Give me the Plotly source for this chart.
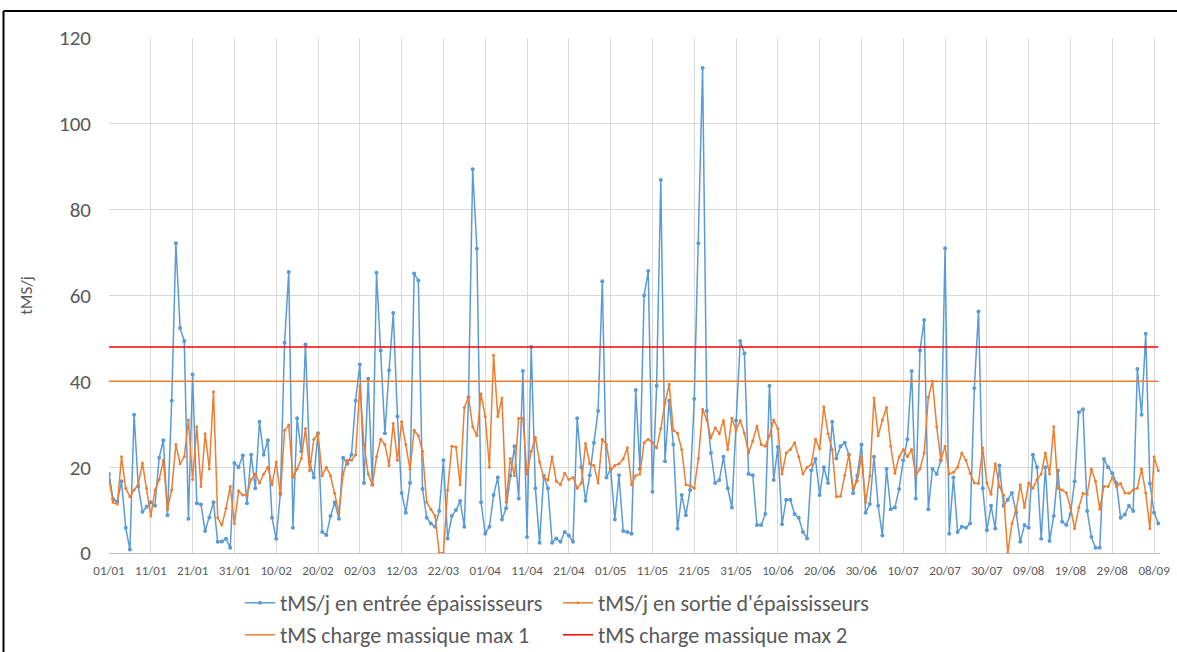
import pandas as pd
import plotly.graph_objects as go

START_DATE = "2019-01-01"

entree = [
    18.4, 12.5, 12.0, 16.7, 5.9, 0.8, 32.2, 15.5, 9.6, 10.8,
    11.8, 11.0, 22.2, 26.3, 8.8, 35.5, 72.2, 52.4, 49.4, 8.0,
    41.6, 11.6, 11.3, 5.1, 8.3, 11.8, 2.6, 2.7, 3.3, 1.2,
    21.0, 20.0, 22.7, 11.6, 22.9, 15.1, 30.6, 22.9, 26.3, 8.2,
    3.3, 13.9, 49.0, 65.5, 5.9, 31.4, 23.7, 48.6, 21.2, 17.6,
    27.9, 4.9, 4.2, 8.6, 11.8, 8.0, 22.2, 20.8, 22.9, 35.5,
    43.9, 16.3, 40.6, 15.9, 65.3, 47.2, 27.9, 42.6, 55.9, 31.8,
    14.0, 9.4, 16.3, 65.1, 63.5, 14.9, 8.2, 6.9, 6.1, 9.8,
    21.6, 3.4, 8.6, 10.0, 12.1, 6.1, 36.3, 89.4, 70.9, 11.8,
    4.5, 6.1, 13.5, 17.6, 7.8, 10.4, 18.0, 24.9, 12.7, 42.4,
    3.7, 48.0, 15.1, 2.4, 18.0, 15.1, 2.4, 3.4, 2.6, 4.9,
    4.1, 2.6, 31.4, 20.0, 12.2, 18.1, 25.7, 33.1, 63.3, 17.6,
    19.6, 7.8, 18.1, 5.1, 4.9, 4.5, 38.0, 19.6, 60.0, 65.7,
    14.3, 39.0, 86.9, 21.4, 35.5, 25.3, 5.7, 13.5, 8.8, 14.7,
    35.9, 72.2, 113.0, 33.1, 23.3, 16.3, 17.0, 22.4, 15.1, 10.6,
    30.9, 49.4, 46.5, 18.4, 18.1, 6.5, 6.5, 9.1, 39.0, 17.0,
    24.7, 6.7, 12.4, 12.4, 9.1, 8.2, 4.9, 3.4, 19.2, 21.9,
    13.5, 20.0, 16.3, 30.6, 22.0, 24.9, 25.7, 22.9, 13.9, 18.0,
    25.3, 9.4, 11.4, 22.4, 11.0, 4.1, 19.6, 10.2, 10.6, 14.9,
    21.6, 26.5, 42.4, 12.7, 47.2, 54.3, 10.2, 19.6, 18.4, 21.6,
    71.0, 4.5, 17.6, 4.9, 6.1, 5.9, 6.9, 38.4, 56.3, 15.1,
    5.3, 11.0, 5.7, 20.4, 11.0, 12.4, 14.0, 9.4, 2.6, 6.5,
    5.9, 22.9, 20.0, 3.3, 20.0, 2.8, 8.6, 19.2, 7.3, 6.5,
    9.1, 16.7, 32.8, 33.5, 9.8, 3.7, 1.2, 1.2, 21.9, 20.0,
    18.6, 16.3, 8.2, 9.0, 11.0, 9.8, 42.9, 32.2, 51.1, 16.2,
    9.4, 6.9,
]

sortie = [
    17.1, 11.8, 11.4, 22.4, 15.1, 13.1, 14.7, 15.9, 21.0, 15.1,
    8.6, 14.7, 17.1, 21.6, 10.2, 14.7, 25.3, 20.8, 22.4, 31.0,
    17.1, 29.4, 15.5, 27.8, 19.6, 37.6, 8.2, 6.5, 10.4, 15.5,
    6.9, 14.5, 13.5, 13.5, 17.1, 18.4, 16.3, 18.4, 20.0, 15.9,
    21.2, 13.5, 28.6, 29.8, 17.6, 19.6, 22.0, 29.0, 19.2, 26.5,
    27.8, 18.0, 20.0, 18.0, 13.9, 9.4, 18.4, 21.6, 21.6, 22.9,
    39.0, 25.3, 18.4, 15.9, 22.4, 26.5, 25.3, 20.4, 30.2, 21.6,
    30.6, 25.3, 19.6, 28.6, 27.3, 23.7, 11.8, 10.2, 8.6, 0.0,
    0.0, 14.7, 24.9, 24.7, 15.9, 33.9, 36.3, 29.4, 27.3, 37.1,
    31.8, 20.0, 46.1, 31.8, 36.1, 11.8, 22.0, 18.0, 31.4, 31.4,
    18.4, 23.7, 26.9, 21.2, 17.6, 17.0, 22.4, 16.7, 15.9, 18.6,
    17.1, 17.6, 15.1, 16.3, 25.5, 20.8, 20.4, 16.3, 26.5, 25.3,
    19.2, 20.4, 20.8, 21.9, 24.5, 15.9, 18.0, 18.4, 25.7, 26.5,
    25.7, 24.5, 29.0, 34.9, 39.3, 28.6, 27.9, 24.1, 15.9, 15.7,
    15.1, 22.0, 33.5, 31.0, 26.8, 29.2, 27.8, 30.9, 24.1, 31.4,
    28.6, 30.9, 27.9, 23.3, 26.1, 29.6, 25.3, 24.9, 27.3, 31.0,
    29.0, 18.4, 23.3, 24.1, 25.7, 22.4, 18.4, 20.0, 20.6, 26.5,
    24.3, 34.1, 27.8, 24.1, 13.1, 13.2, 18.1, 22.9, 15.1, 16.7,
    22.4, 11.8, 18.0, 36.1, 27.3, 31.0, 33.9, 24.9, 18.6, 22.4,
    24.1, 22.4, 24.1, 18.1, 19.6, 23.3, 36.3, 40.0, 29.4, 21.6,
    24.9, 18.4, 18.8, 20.0, 23.3, 21.6, 18.6, 16.3, 16.2, 24.5,
    16.3, 13.7, 20.8, 15.5, 13.5, 0.0, 6.9, 9.8, 15.9, 10.6,
    16.3, 15.1, 17.1, 18.4, 23.3, 18.4, 29.4, 15.1, 14.7, 14.0,
    10.6, 5.7, 10.6, 13.9, 13.7, 19.6, 16.7, 10.2, 15.5, 15.5,
    17.6, 15.5, 16.2, 14.0, 13.9, 14.7, 15.1, 19.6, 14.0, 5.7,
    22.4, 19.2,
]

MAX1 = 40
MAX2 = 48

names = [
    "tMS/j en entrée épaississeurs",
    "tMS/j en sortie d'épaississeurs",
    "tMS charge massique max 1",
    "tMS charge massique max 2",
]

dates = pd.date_range(START_DATE, periods=len(entree), freq="D")

BLUE = "#5B9BD5"
ORANGE = "#ED7D31"
RED = "#FF0000"
FONT = "Carlito, Lato, sans-serif"
GRAY = "#595959"

fig = go.Figure()
fig.add_trace(go.Scatter(
    x=dates, y=entree, name=names[0], mode="lines+markers",
    line=dict(color=BLUE, width=1.5), marker=dict(color=BLUE, size=4),
    legend="legend",
))
fig.add_trace(go.Scatter(
    x=dates, y=sortie, name=names[1], mode="lines+markers",
    line=dict(color=ORANGE, width=1.5), marker=dict(color=ORANGE, size=3),
    legend="legend",
))
fig.add_trace(go.Scatter(
    x=dates, y=[MAX1] * len(dates), name=names[2], mode="lines",
    line=dict(color=ORANGE, width=1.5), legend="legend2",
))
fig.add_trace(go.Scatter(
    x=dates, y=[MAX2] * len(dates), name=names[3], mode="lines",
    line=dict(color=RED, width=1.5), legend="legend2",
))

x_end = dates[-1] + pd.Timedelta(hours=10)

legend_common = dict(
    orientation="h", xref="container", yref="container",
    x=240 / 1177, xanchor="left", yanchor="middle",
    font=dict(family=FONT, size=22, color=GRAY),
    entrywidth=273, entrywidthmode="pixels",
    bgcolor="rgba(0,0,0,0)", itemwidth=30, tracegroupgap=0,
)

fig.update_layout(
    width=1177, height=652,
    margin=dict(l=109, r=17, t=38, b=99, autoexpand=False),
    paper_bgcolor="white", plot_bgcolor="white",
    font=dict(family=FONT, color=GRAY),
    showlegend=True,
    legend=dict(legend_common, y=(652 - 603) / 652),
    legend2=dict(legend_common, y=(652 - 635) / 652),
    xaxis=dict(
        type="date", range=[dates[0], x_end], automargin=False,
        tick0=dates[0], dtick=10 * 86400000, tickformat="%d/%m",
        showgrid=True, gridcolor="#D9D9D9", gridwidth=1,
        showline=True, linecolor="#BFBFBF", linewidth=1,
        ticks="", tickfont=dict(family=FONT, size=13, color=GRAY),
        ticklabelstandoff=5, zeroline=False,
    ),
    yaxis=dict(
        range=[0, 120], dtick=20, tick0=0, automargin=False,
        showgrid=True, gridcolor="#D9D9D9", gridwidth=1,
        showline=False, zeroline=False, ticks="",
        tickfont=dict(family=FONT, size=21, color=GRAY),
        ticklabelstandoff=17,
        title=dict(text="tMS/j", font=dict(family=FONT, size=17, color=GRAY), standoff=22),
    ),
    shapes=[
        dict(type="line", xref="paper", yref="paper",
             x0=(3.5 - 109) / 1051, x1=(1177 - 109) / 1051,
             y0=(553 - 11) / 515, y1=(553 - 11) / 515,
             line=dict(color="black", width=2)),
        dict(type="line", xref="paper", yref="paper",
             x0=(3.5 - 109) / 1051, x1=(3.5 - 109) / 1051,
             y0=(553 - 11) / 515, y1=(553 - 652) / 515,
             line=dict(color="black", width=2)),
    ],
)

fig.write_html(
    "out.html",
    config={"displayModeBar": False},
    post_script="document.body.style.margin='0';document.body.style.overflow='hidden';",
)
